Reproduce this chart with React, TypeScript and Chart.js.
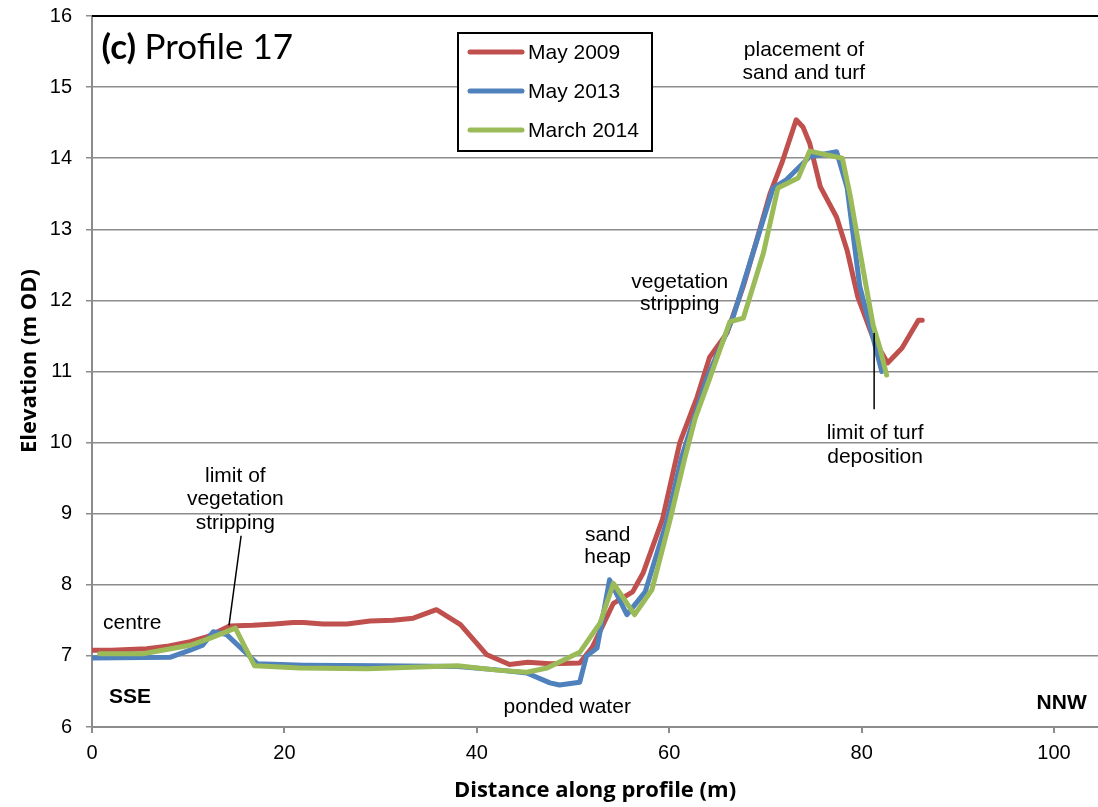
import React, { useEffect, useRef } from 'react';
import { Chart, registerables } from 'chart.js';

Chart.register(...registerables);

// ---------- data ----------
const seriesNames = ['May 2009', 'May 2013', 'March 2014'];
const seriesColors = ['#C0504D', '#4F81BD', '#9BBB59'];

const may2009X = [0, 2, 5.7, 8, 10.2, 12, 14.3, 16.7, 19, 20.9, 22, 24, 26.5, 28.9, 31.3, 33.4, 35.8, 38.3, 41, 43.4, 45.3, 47.6, 50.7, 52, 54.2, 56.2, 57.3, 59.3, 61.1, 62.9, 64.2, 66, 67.7, 69.1, 70.5, 71.7, 73.2, 73.9, 74.6, 75.7, 77.4, 78.5, 79.6, 81.2, 82.7, 84.2, 85.9, 86.3];
const may2009Y = [7.08, 7.08, 7.1, 7.14, 7.2, 7.27, 7.42, 7.43, 7.45, 7.47, 7.47, 7.45, 7.45, 7.49, 7.5, 7.53, 7.65, 7.44, 7.02, 6.88, 6.91, 6.89, 6.9, 7.12, 7.74, 7.9, 8.17, 8.92, 10.0, 10.64, 11.2, 11.54, 12.2, 12.85, 13.51, 13.93, 14.54, 14.44, 14.21, 13.6, 13.17, 12.7, 12.05, 11.47, 11.12, 11.33, 11.72, 11.72];

const may2013X = [0, 8.1, 10.2, 11.5, 12.6, 14, 17.2, 22, 30, 38, 42.4, 45.2, 47.6, 48.6, 50.7, 51.4, 52.5, 53.8, 55.6, 57.5, 59.8, 61.3, 63.9, 66.6, 70.8, 72.2, 74.6, 77.4, 78.5, 79.8, 81.2, 82.1];
const may2013Y = [6.97, 6.98, 7.08, 7.15, 7.34, 7.3, 6.89, 6.87, 6.86, 6.85, 6.8, 6.76, 6.62, 6.59, 6.63, 7.0, 7.11, 8.07, 7.58, 7.9, 8.92, 9.8, 10.9, 11.75, 13.58, 13.7, 14.02, 14.09, 13.58, 12.2, 11.47, 11.0];

const march2014X = [0.8, 5.3, 10.2, 12.3, 14.9, 16.9, 21.6, 28.6, 38, 42.1, 45.2, 47.3, 50.7, 52.8, 54.2, 56.4, 58.2, 60.1, 61.6, 62.7, 64.2, 66.3, 67.7, 69.8, 71.3, 73.4, 74.6, 78, 78.8, 80.2, 81.2, 81.9, 82.6];
const march2014Y = [7.03, 7.03, 7.15, 7.25, 7.39, 6.86, 6.83, 6.82, 6.86, 6.8, 6.77, 6.83, 7.05, 7.46, 8.02, 7.58, 7.93, 8.92, 9.77, 10.34, 10.9, 11.7, 11.75, 12.67, 13.58, 13.72, 14.1, 14.0, 13.48, 12.4, 11.65, 11.33, 10.95];

const xMin = 0;
const xMax = 104.57;
const xStep = 20;
const yMin = 6;
const yMax = 16;
const yStep = 1;

const xTitle = 'Distance along profile (m)';
const yTitle = 'Elevation (m OD)';

// annotation texts, placed in data units
const notes = [
  { lines: ['placement of', 'sand and turf'], x: 74.0, y: 15.52, dy: 0.32, align: 'center' },
  { lines: ['vegetation', 'stripping'], x: 61.1, y: 12.26, dy: 0.31, align: 'center' },
  { lines: ['limit of turf', 'deposition'], x: 81.4, y: 10.13, dy: 0.33, align: 'center' },
  { lines: ['sand', 'heap'], x: 53.6, y: 8.7, dy: 0.31, align: 'center' },
  { lines: ['ponded water'], x: 49.4, y: 6.28, dy: 0, align: 'center' },
  { lines: ['limit of', 'vegetation', 'stripping'], x: 14.9, y: 9.53, dy: 0.33, align: 'center' },
  { lines: ['centre'], x: 1.14, y: 7.46, dy: 0, align: 'left' },
];
const boldNotes = [
  { text: 'SSE', x: 1.77, y: 6.42, align: 'left' },
  { text: 'NNW', x: 103.4, y: 6.34, align: 'right' },
];
const leaders = [
  { x1: 15.5, y1: 8.69, x2: 14.24, y2: 7.43 },
  { x1: 81.3, y1: 11.54, x2: 81.3, y2: 10.47 },
];

const toPoints = (xs: number[], ys: number[]) => xs.map((x, i) => ({ x, y: ys[i] }));

const annotationPlugin = {
  id: 'annotations',
  afterDraw(chart: any) {
    const { ctx, chartArea } = chart;
    const xs = chart.scales.x;
    const ys = chart.scales.y;
    ctx.save();

    // top border
    ctx.strokeStyle = '#000';
    ctx.lineWidth = 2;
    ctx.beginPath();
    ctx.moveTo(chartArea.left, chartArea.top);
    ctx.lineTo(chartArea.right, chartArea.top);
    ctx.stroke();

    // leader lines
    ctx.lineWidth = 1.5;
    leaders.forEach((l) => {
      ctx.beginPath();
      ctx.moveTo(xs.getPixelForValue(l.x1), ys.getPixelForValue(l.y1));
      ctx.lineTo(xs.getPixelForValue(l.x2), ys.getPixelForValue(l.y2));
      ctx.stroke();
    });

    ctx.fillStyle = '#000';
    ctx.textBaseline = 'middle';
    ctx.font = '21px "Liberation Sans", Arial, sans-serif';
    notes.forEach((n) => {
      ctx.textAlign = n.align;
      n.lines.forEach((t, i) => {
        ctx.fillText(t, xs.getPixelForValue(n.x), ys.getPixelForValue(n.y - i * n.dy));
      });
    });
    ctx.font = 'bold 21px "Liberation Sans", Arial, sans-serif';
    boldNotes.forEach((n) => {
      ctx.textAlign = n.align;
      ctx.fillText(n.text, xs.getPixelForValue(n.x), ys.getPixelForValue(n.y));
    });

    // panel title
    const tx = xs.getPixelForValue(1.0);
    const ty = ys.getPixelForValue(15.56);
    ctx.textAlign = 'left';
    ctx.font = 'bold 35px Lato, sans-serif';
    const lab = '(c)';
    ctx.fillText(lab, tx, ty);
    const w = ctx.measureText(lab + ' ').width;
    ctx.font = '35px Lato, sans-serif';
    ctx.fillText('Profile 17', tx + w, ty);

    // axis titles
    ctx.font = 'bold 22px "Open Sans", sans-serif';
    ctx.textAlign = 'center';
    ctx.fillText(xTitle, (chartArea.left + chartArea.right) / 2, chart.height - 16);
    ctx.save();
    ctx.translate(30, 361);
    ctx.rotate(-Math.PI / 2);
    ctx.fillText(yTitle, 0, 0);
    ctx.restore();

    // legend
    const bx = chartArea.left + 366;
    const by = chartArea.top + 17;
    const bw = 194;
    const bh = 118;
    ctx.fillStyle = '#fff';
    ctx.fillRect(bx, by, bw, bh);
    ctx.strokeStyle = '#000';
    ctx.lineWidth = 2;
    ctx.strokeRect(bx, by, bw, bh);
    ctx.font = '21px "Liberation Sans", Arial, sans-serif';
    ctx.textAlign = 'left';
    seriesNames.forEach((name, i) => {
      const cy = by + 19 + i * 39;
      ctx.strokeStyle = seriesColors[i];
      ctx.lineWidth = 5;
      ctx.lineCap = 'round';
      ctx.beginPath();
      ctx.moveTo(bx + 12, cy);
      ctx.lineTo(bx + 64, cy);
      ctx.stroke();
      ctx.fillStyle = '#000';
      ctx.fillText(name, bx + 70, cy + 1);
    });
    ctx.restore();
  },
};

export default function App() {
  const ref = useRef<HTMLCanvasElement | null>(null);

  useEffect(() => {
    if (!ref.current) return;
    const series = [
      toPoints(may2009X, may2009Y),
      toPoints(may2013X, may2013Y),
      toPoints(march2014X, march2014Y),
    ];
    const chart = new Chart(ref.current, {
      type: 'scatter',
      data: {
        datasets: series.map((pts, i) => ({
          label: seriesNames[i],
          data: pts,
          showLine: true,
          borderColor: seriesColors[i],
          backgroundColor: seriesColors[i],
          borderWidth: 5,
          pointRadius: 0,
          pointHoverRadius: 0,
          tension: 0,
          borderJoinStyle: 'round',
          borderCapStyle: 'round',
          order: 2 - i,
        })),
      },
      options: {
        responsive: false,
        animation: false,
        devicePixelRatio: 1,
        layout: { padding: { top: 16, right: 0, left: 0, bottom: 0 } },
        plugins: { legend: { display: false }, tooltip: { enabled: false } },
        scales: {
          x: {
            type: 'linear',
            min: xMin,
            max: xMax,
            afterFit: (s: any) => { s.height = 80; s.paddingLeft = 0; s.paddingRight = 0; },
            ticks: {
              stepSize: xStep,
              includeBounds: false,
              color: '#000',
              padding: 8,
              font: { family: '"Liberation Sans", Arial, sans-serif', size: 20 },
            },
            grid: { drawOnChartArea: false, color: '#8c8c8c', lineWidth: 2, tickLength: 6 },
            border: { color: '#8c8c8c', width: 2 },
          },
          y: {
            type: 'linear',
            min: yMin,
            max: yMax,
            afterFit: (s: any) => { s.width = 92; s.paddingTop = 0; s.paddingBottom = 0; },
            ticks: {
              stepSize: yStep,
              color: '#000',
              padding: 14,
              font: { family: '"Liberation Sans", Arial, sans-serif', size: 20 },
            },
            grid: { color: '#8c8c8c', lineWidth: 1.5, tickLength: 6 },
            border: { color: '#8c8c8c', width: 2 },
          },
        },
      },
      plugins: [annotationPlugin],
    });
    return () => chart.destroy();
  }, []);

  return (
    <div style={{ position: 'absolute', left: 0, top: 0, width: 1098, height: 807, background: '#fff' }}>
      <canvas ref={ref} width={1098} height={807} />
    </div>
  );
}
